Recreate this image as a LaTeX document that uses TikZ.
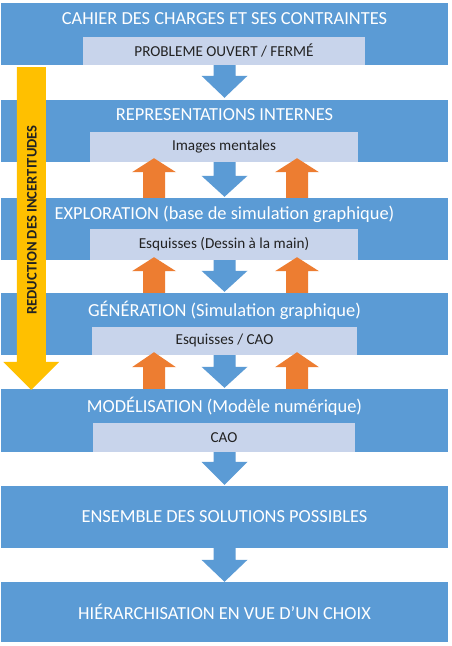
\documentclass[tikz,border=0pt]{standalone}
\usepackage{fontspec}
\setmainfont{Carlito}
\usetikzlibrary{calc}
\definecolor{boxblue}{HTML}{5B9BD5}
\definecolor{lightbox}{HTML}{C8D4EB}
\definecolor{orangearr}{HTML}{ED7D31}
\definecolor{yellowarr}{HTML}{FFC000}
\definecolor{darktext}{HTML}{222222}
\newcommand\blockarrow[6]{%
  \fill[#6] let \p1=#1, \p2=#2 in
    (\x1-#3,\y1) -- (\x1-#3,\y2+#5) -- (\x1-#4,\y2+#5) -- (\x1,\y2)
    -- (\x1+#4,\y2+#5) -- (\x1+#3,\y2+#5) -- (\x1+#3,\y1) -- cycle;}
\begin{document}
\begin{tikzpicture}[x=1pt,y=-1pt,
  bigbox/.style={fill=boxblue,draw=none,minimum width=447pt,inner sep=0pt},
  subbox/.style={fill=lightbox,draw=none,inner sep=0pt,anchor=south},
  headtext/.style={text=white,font=\fontsize{18.4}{21}\selectfont,inner sep=0pt},
  subtext/.style={text=darktext,font=\fontsize{15.2}{18}\selectfont,inner sep=0pt},
  bigtext/.style={text=white,font=\fontsize{18.4}{21}\selectfont,inner sep=0pt},
  bluefill/.style={fill=boxblue},
  orangefill/.style={fill=orangearr},
  yellowfill/.style={fill=yellowarr}]
\useasboundingbox[fill=white] (0,0) rectangle (451,646);
% blue boxes
\node[bigbox,minimum height=62pt] (b1) at (224.5,34) {};
\node[bigbox,minimum height=62pt] (b2) at (224.5,131) {};
\node[bigbox,minimum height=62pt] (b3) at (224.5,229) {};
\node[bigbox,minimum height=62pt] (b4) at (224.5,324) {};
\node[bigbox,minimum height=63pt] (b5) at (224.5,420.5) {};
\node[bigbox,minimum height=62pt] (b6) at (224.5,517) {};
\node[bigbox,minimum height=60pt] (b7) at (224.5,612) {};
% light boxes
\node[subbox,minimum width=282pt,minimum height=28pt] (l1) at (224,65) {};
\node[subbox,minimum width=268pt,minimum height=30pt] (l2) at (224,162) {};
\node[subbox,minimum width=268pt,minimum height=31pt] (l3) at (224,260) {};
\node[subbox,minimum width=265pt,minimum height=28pt] (l4) at (224.5,355) {};
\node[subbox,minimum width=262pt,minimum height=29pt] (l5) at (224,452) {};
% headings
\node[headtext] (h1) at (224.5,19) {CAHIER DES CHARGES ET SES CONTRAINTES};
\node[headtext] (h2) at (224.5,115) {REPRESENTATIONS INTERNES};
\node[headtext] (h3) at (224.5,214) {EXPLORATION (base de simulation graphique)};
\node[headtext] (h4) at (224.5,310) {GÉNÉRATION (Simulation graphique)};
\node[headtext] (h5) at (224.5,406) {MODÉLISATION (Modèle numérique)};
\node[bigtext] (h6) at (b6) {ENSEMBLE DES SOLUTIONS POSSIBLES};
\node[bigtext] (h7) at (b7) {HIÉRARCHISATION EN VUE D{\char"0027}UN CHOIX};
% sub texts
\node[subtext] (s1) at (l1) {PROBLEME OUVERT / FERMÉ};
\node[subtext] (s2) at (l2) {Images mentales};
\node[subtext] (s3) at (l3) {Esquisses (Dessin à la main)};
\node[subtext] (s4) at (l4) {Esquisses / CAO};
\node[subtext] (s5) at (l5) {CAO};
% blue down arrows
\blockarrow{(b1.south)}{($(b2.north)+(0,-2)$)}{11pt}{23pt}{22pt}{bluefill}
\blockarrow{(b2.south)}{($(b3.north)+(0,-1)$)}{11pt}{23pt}{21pt}{bluefill}
\blockarrow{(b3.south)}{($(b4.north)+(0,-1)$)}{11pt}{23pt}{21pt}{bluefill}
\blockarrow{(b4.south)}{($(b5.north)+(0,-1)$)}{11pt}{23pt}{21pt}{bluefill}
\blockarrow{(b5.south)}{($(b6.north)+(0,-1)$)}{11pt}{23pt}{23pt}{bluefill}
\blockarrow{(b6.south)}{($(b7.north)+(0,0)$)}{11pt}{23pt}{22pt}{bluefill}
% orange up arrows
\blockarrow{($(b3.north)+(-70.5,0)$)}{($(b2.south)+(-70.5,-4)$)}{11pt}{22pt}{-14pt}{orangefill}
\blockarrow{($(b3.north)+(72.5,0)$)}{($(b2.south)+(72.5,-4)$)}{11pt}{22pt}{-14pt}{orangefill}
\blockarrow{($(b4.north)+(-70.5,0)$)}{($(b3.south)+(-70.5,-3)$)}{11pt}{22pt}{-14pt}{orangefill}
\blockarrow{($(b4.north)+(72.5,0)$)}{($(b3.south)+(72.5,-3)$)}{11pt}{22pt}{-14pt}{orangefill}
\blockarrow{($(b5.north)+(-70.5,0)$)}{($(b4.south)+(-70.5,-3)$)}{11pt}{22pt}{-15pt}{orangefill}
\blockarrow{($(b5.north)+(72.5,0)$)}{($(b4.south)+(72.5,-3)$)}{11pt}{22pt}{-15pt}{orangefill}
% yellow arrow
\coordinate (ytop) at ($(b1.south west)+(30.5,2)$);
\coordinate (ytip) at ($(b5.north west)+(30.5,1)$);
\blockarrow{(ytop)}{(ytip)}{14.5pt}{28pt}{28pt}{yellowfill}
\node[rotate=90,text=darktext,font=\bfseries\fontsize{14.6}{17}\selectfont,inner sep=0pt] (yt) at (32,220) {REDUCTION DES INCERTITUDES};
\end{tikzpicture}
\end{document}
